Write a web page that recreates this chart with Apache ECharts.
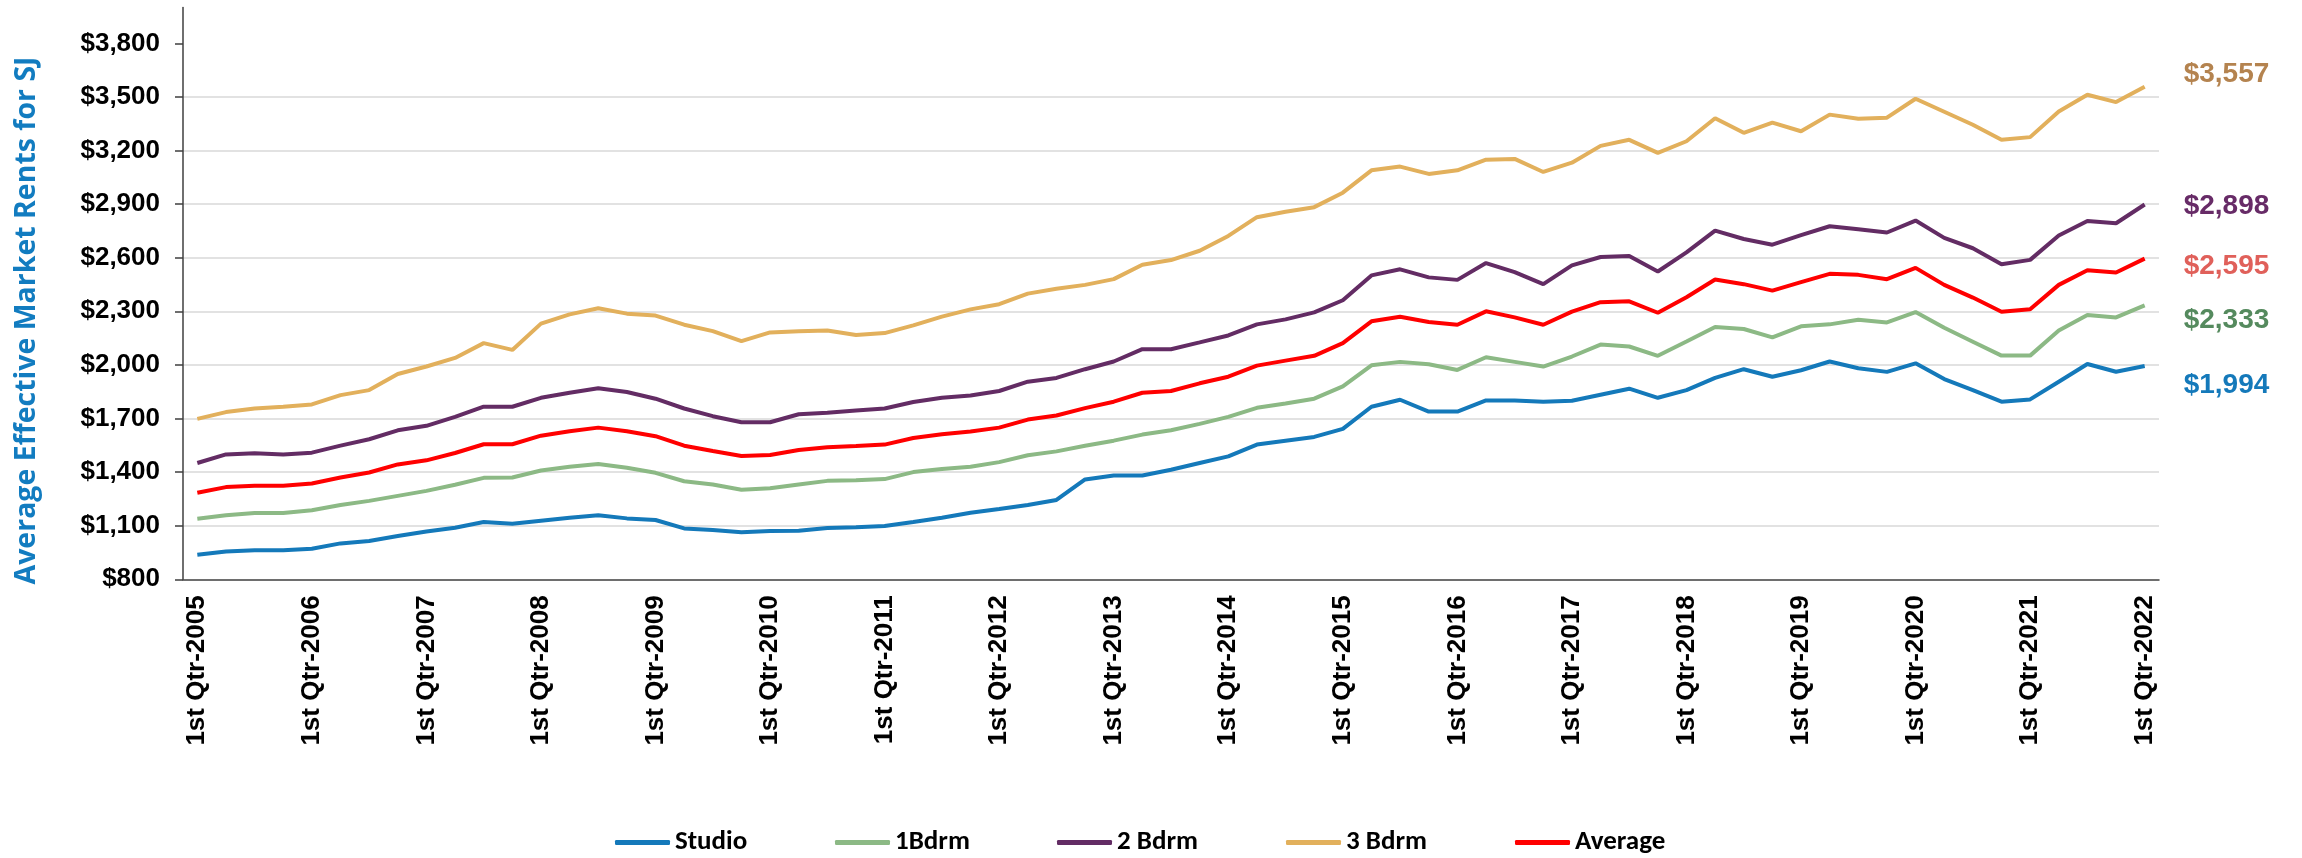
<!DOCTYPE html>
<html>
<head>
<meta charset="utf-8">
<script src="https://cdn.jsdelivr.net/npm/echarts@6/dist/echarts.min.js"></script>
<style>
  html, body { margin: 0; padding: 0; background: #ffffff; }
  #chart { width: 2302px; height: 858px; }
</style>
</head>
<body>
<div id="chart"></div>
<script>
// Quarterly periods, 1st Qtr-2005 through 1st Qtr-2022
const years = [2005, 2006, 2007, 2008, 2009, 2010, 2011, 2012, 2013, 2014, 2015, 2016, 2017, 2018, 2019, 2020, 2021, 2022];
const quarterNames = ['1st Qtr', '2nd Qtr', '3rd Qtr', '4th Qtr'];
const categories = [];
years.forEach(y => quarterNames.forEach(q => categories.push(q + '-' + y)));
categories.length = 69;

// Y-axis tick values
const yTicks = [800, 1100, 1400, 1700, 2000, 2300, 2600, 2900, 3200, 3500, 3800];

// Average effective market rents (USD per month)
const studio = [
  937, 956, 963, 963, 971, 1001, 1014, 1042, 1068, 1089, 1121, 1111, 1128, 1145, 1158, 1141, 1132, 1085, 1076, 1064,
  1070, 1072, 1087, 1091, 1098, 1121, 1145, 1173, 1194, 1216, 1244, 1359, 1381, 1381, 1413, 1451, 1488, 1554, 1576, 1597,
  1642, 1766, 1805, 1739, 1739, 1801, 1801, 1794, 1799, 1833, 1867, 1816, 1859, 1927, 1976, 1934, 1970, 2019, 1981, 1961,
  2009, 1921, 1859, 1794, 1807, 1906, 2005, 1962, 1994
];
const oneBdrm = [
  1139, 1158, 1171, 1171, 1186, 1216, 1239, 1267, 1295, 1329, 1368, 1370, 1409, 1430, 1445, 1424, 1396, 1349, 1331, 1301,
  1310, 1331, 1351, 1355, 1361, 1400, 1417, 1430, 1456, 1494, 1516, 1548, 1576, 1610, 1634, 1670, 1709, 1760, 1784, 1811,
  1880, 1998, 2017, 2004, 1972, 2043, 2017, 1991, 2047, 2114, 2103, 2051, 2131, 2212, 2201, 2154, 2216, 2227, 2253, 2238,
  2296, 2208, 2130, 2052, 2052, 2192, 2279, 2266, 2333
];
const twoBdrm = [
  1451, 1499, 1505, 1499, 1509, 1548, 1584, 1634, 1659, 1709, 1766, 1766, 1816, 1844, 1869, 1848, 1811, 1756, 1713, 1679,
  1679, 1724, 1732, 1745, 1756, 1792, 1816, 1829, 1854, 1906, 1927, 1976, 2019, 2088, 2088, 2126, 2165, 2227, 2255, 2294,
  2362, 2501, 2535, 2490, 2476, 2570, 2519, 2452, 2557, 2604, 2609, 2523, 2630, 2752, 2705, 2673, 2726, 2776, 2759, 2741,
  2808, 2711, 2653, 2563, 2588, 2724, 2806, 2793, 2898
];
const threeBdrm = [
  1698, 1736, 1756, 1766, 1779, 1831, 1859, 1949, 1991, 2039, 2122, 2084, 2231, 2283, 2317, 2287, 2276, 2225, 2189, 2133,
  2182, 2189, 2193, 2167, 2178, 2221, 2270, 2311, 2340, 2399, 2426, 2448, 2480, 2561, 2587, 2639, 2722, 2827, 2857, 2883,
  2964, 3089, 3110, 3069, 3089, 3149, 3153, 3080, 3132, 3226, 3260, 3187, 3252, 3381, 3299, 3356, 3308, 3401, 3378, 3384,
  3490, 3417, 3344, 3260, 3275, 3419, 3512, 3471, 3557
];
const average = [
  1284, 1316, 1323, 1323, 1336, 1370, 1398, 1443, 1466, 1507, 1556, 1556, 1604, 1629, 1649, 1629, 1601, 1548, 1518, 1490,
  1496, 1524, 1539, 1546, 1554, 1591, 1612, 1627, 1649, 1694, 1717, 1758, 1794, 1844, 1854, 1897, 1934, 1996, 2024, 2051,
  2122, 2244, 2270, 2240, 2225, 2300, 2266, 2225, 2298, 2351, 2356, 2292, 2379, 2478, 2452, 2416, 2463, 2510, 2504, 2480,
  2543, 2448, 2377, 2298, 2311, 2448, 2530, 2517, 2595
];

const money = v => '$' + Number(v).toLocaleString('en-US');

// name, values, line colour, end-label colour, end-label vertical shift, legend x
const seriesDefs = [
  ['Studio',  studio,    '#1479ba', '#1479ba', 19,  615],
  ['1Bdrm',   oneBdrm,   '#8cb985', '#558a5e', 15,  835],
  ['2 Bdrm',  twoBdrm,   '#632c64', '#672b67', 2,   1057],
  ['3 Bdrm',  threeBdrm, '#e2b05c', '#b4834f', -12, 1286],
  ['Average', average,   '#ff0000', '#e0605a', 8,   1515]
];

const labelFont = 'Liberation Sans, Arial, sans-serif';

const chart = echarts.init(document.getElementById('chart'), null, { renderer: 'canvas' });

const option = {
  animation: false,
  backgroundColor: '#ffffff',
  grid: { left: 183, right: 143, top: 7.6, bottom: 278.7, containLabel: false },
  xAxis: {
    type: 'category',
    data: categories,
    boundaryGap: true,
    axisLine: { show: true, lineStyle: { color: '#3f3f3f', width: 1.5 } },
    axisTick: { show: false },
    axisLabel: {
      interval: 3,
      rotate: 90,
      margin: 16,
      color: '#000000',
      fontFamily: labelFont,
      fontWeight: 'bold',
      fontSize: 26
    },
    splitLine: { show: false }
  },
  yAxis: {
    type: 'value',
    min: 800,
    max: 4000,
    axisLine: { show: true, lineStyle: { color: '#3f3f3f', width: 1.5 } },
    axisTick: { show: true, length: 8, customValues: yTicks, lineStyle: { color: '#3f3f3f', width: 1.5 } },
    axisLabel: {
      customValues: yTicks,
      formatter: money,
      margin: 23,
      color: '#000000',
      fontFamily: labelFont,
      fontWeight: 'bold',
      fontSize: 26
    },
    splitLine: { show: true, showMinLine: false, showMaxLine: false, lineStyle: { color: '#d9d9d9', width: 1.5 } }
  },
  legend: seriesDefs.map(d => ({
    data: [d[0]],
    left: d[5],
    top: 829,
    padding: 0,
    icon: 'roundRect',
    itemWidth: 55,
    itemHeight: 5,
    textStyle: {
      color: '#000000',
      fontFamily: 'Carlito, Liberation Sans Narrow, Open Sans, sans-serif',
      fontWeight: 'bold',
      fontSize: 27
    }
  })),
  graphic: [{
    type: 'text',
    x: 27,
    y: 320.5,
    rotation: Math.PI / 2,
    style: {
      text: 'Average Effective Market Rents for SJ',
      fill: '#127cc0',
      font: 'bold 28.5px "Open Sans", sans-serif',
      textAlign: 'center',
      textVerticalAlign: 'middle'
    }
  }],
  series: seriesDefs.map(d => ({
    name: d[0],
    type: 'line',
    data: d[1],
    symbol: 'none',
    color: d[2],
    lineStyle: { color: d[2], width: 4 },
    endLabel: {
      show: true,
      distance: 39,
      offset: [0, d[4]],
      formatter: p => money(p.value),
      color: d[3],
      fontFamily: labelFont,
      fontWeight: 'bold',
      fontSize: 28
    }
  }))
};

chart.setOption(option);
</script>
</body>
</html>
